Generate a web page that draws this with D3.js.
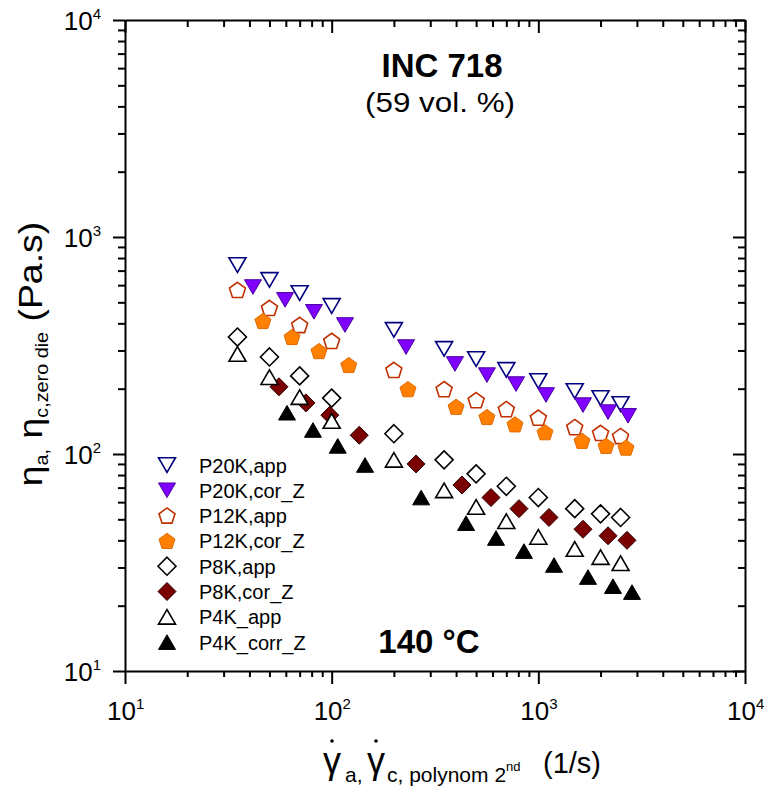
<!DOCTYPE html>
<html>
<head>
<meta charset="utf-8">
<script src="https://cdn.jsdelivr.net/npm/d3@7"></script>
<style>
  html, body { margin: 0; padding: 0; background: #fff; }
  svg { display: block; font-family: Arial, "Liberation Sans", sans-serif; }
</style>
</head>
<body>
<svg id="chart" width="765" height="787"></svg>
<script>
// ---------------- DATA ----------------
const majorTicks = [10, 100, 1000, 10000];
const tickExponents = ["1", "2", "3", "4"];

const seriesNames = ["P20K,app", "P20K,cor_Z", "P12K,app", "P12K,cor_Z",
                     "P8K,app", "P8K,cor_Z", "P4K_app", "P4K_corr_Z"];

// apparent shear rates (1/s)
const rateApp = [35, 50, 70, 100, 200, 350, 500, 700, 1000, 1500, 2000, 2500];

const p20kAppEta  = [743, 634, 552, 481, 373, 305, 274, 244, 217, 195, 181, 170];
const p20kCorRate = [41.6, 59.5, 82.1, 116, 229, 395, 564, 780, 1089, 1645, 2174, 2716];
const p20kCorEta  = [588, 513, 452, 393, 311, 260, 231, 210, 187, 168, 156, 150];

const p12kAppEta  = [570, 471, 393, 332, 244, 199, 177, 161, 147, 133, 125, 121];
const p12kCorRate = [46.5, 64.3, 86.8, 121, 234, 400, 564, 771, 1077, 1627, 2126, 2656];
const p12kCorEta  = [410, 346, 298, 257, 199, 165, 148, 137, 126, 115, 109, 107];

const p8kAppEta   = [346, 280, 229, 181, 124, 94, 81, 71, 63, 56, 53, 51];
const p8kCorRate  = [55.6, 75.1, 98, 136, 256, 427, 590, 806, 1126, 1645, 2174, 2686];
const p8kCorEta   = [204, 172, 151, 122, 90, 72, 63, 56, 51, 45, 42, 40];

const p4kAppEta   = [289, 226, 183, 142, 94, 68, 57, 49, 41.5, 36.5, 33.5, 31.4];
const p4kCorRate  = [60.8, 81.2, 107, 145, 271, 447, 624, 852, 1191, 1739, 2297, 2840];
const p4kCorEta   = [155, 129, 109, 89, 63, 48, 41, 35.7, 30.8, 27.1, 24.6, 23.1];

// ---------------- SETUP ----------------
const svg = d3.select("#chart");
svg.append("rect").attr("width", 765).attr("height", 787).attr("fill", "#fff");

const L = 125, R = 745, T = 20, B = 671;
const x = d3.scaleLog().domain([10, 10000]).range([L, R]);
const y = d3.scaleLog().domain([10, 10000]).range([B, T]);

// minor ticks 2..9 per decade
const minorTicks = [];
for (let d = 10; d < 10000; d *= 10) for (let k = 2; k <= 9; k++) minorTicks.push(d * k);

function styleAxis(g) {
  g.select(".domain").attr("stroke", "#000").attr("stroke-width", 2);
  g.selectAll(".tick line").attr("stroke", "#000").attr("stroke-width", 2);
  g.selectAll(".tick text").remove();
}
function addAxis(axisFn, scale, transform, majorLen, minorLen) {
  const gMaj = svg.append("g").attr("transform", transform)
    .call(axisFn(scale).tickValues(majorTicks).tickSize(majorLen).tickSizeOuter(0).tickFormat(""));
  styleAxis(gMaj);
  const gMin = svg.append("g").attr("transform", transform)
    .call(axisFn(scale).tickValues(minorTicks).tickSize(minorLen).tickSizeOuter(0).tickFormat(""));
  styleAxis(gMin);
  gMin.select(".domain").remove();
}
addAxis(d3.axisBottom, x, `translate(0,${B})`, 13, 6);
addAxis(d3.axisTop, x, `translate(0,${T})`, -13, -7);
addAxis(d3.axisLeft, y, `translate(${L},0)`, 12, 7);
addAxis(d3.axisRight, y, `translate(${R},0)`, -12, -7);

// tick labels
const tickFont = 26, supFont = 15;
majorTicks.forEach((v, i) => {
  const t = svg.append("text").attr("x", x(v) - 18).attr("y", 720)
    .attr("font-size", tickFont).attr("fill", "#000");
  t.append("tspan").text("10");
  t.append("tspan").attr("font-size", supFont).attr("dy", -11).text(tickExponents[i]);

  const ty = svg.append("text").attr("x", 101).attr("y", y(v) + 10)
    .attr("font-size", tickFont).attr("fill", "#000").attr("text-anchor", "end");
  ty.append("tspan").text("10");
  ty.append("tspan").attr("font-size", supFont).attr("dy", -11).text(tickExponents[i]);
});

// ---------------- SYMBOLS ----------------
const triDown = { draw(c, s) { const w = s, h = s * 0.86;
  c.moveTo(-w/2, -h/2); c.lineTo(w/2, -h/2); c.lineTo(0, h/2); c.closePath(); } };
const triUp = { draw(c, s) { const w = s, h = s * 0.86;
  c.moveTo(-w/2, h/2); c.lineTo(w/2, h/2); c.lineTo(0, -h/2); c.closePath(); } };
const pentagon = { draw(c, s) { const r = s / 1.9;
  for (let k = 0; k < 5; k++) { const a = -Math.PI/2 + k * 2 * Math.PI / 5;
    const px = r * Math.cos(a), py = r * Math.sin(a) + 0.09 * r;
    if (k === 0) c.moveTo(px, py); else c.lineTo(px, py); }
  c.closePath(); } };
const diamond = { draw(c, s) { const h = s / 2;
  c.moveTo(0, -h); c.lineTo(h, 0); c.lineTo(0, h); c.lineTo(-h, 0); c.closePath(); } };

const seriesX = [rateApp, p20kCorRate, rateApp, p12kCorRate, rateApp, p8kCorRate, rateApp, p4kCorRate];
const seriesY = [p20kAppEta, p20kCorEta, p12kAppEta, p12kCorEta, p8kAppEta, p8kCorEta, p4kAppEta, p4kCorEta];
const seriesSym = [triDown, triDown, pentagon, pentagon, diamond, diamond, triUp, triUp];
const seriesSize = [17, 17, 16, 16, 18, 18, 17, 17];
const seriesFill = ["#fff", "#7f00ff", "#fff", "#ff8000", "#fff", "#7a0000", "#fff", "#000"];
const seriesStroke = ["#000080", "#4a00a0", "#c03000", "#e06a00", "#000", "#2a0000", "#000", "#000"];
const seriesSW = [1.6, 1, 1.6, 1, 1.6, 1, 1.6, 1];

seriesNames.forEach((name, i) => {
  const pts = seriesX[i].map((v, j) => [v, seriesY[i][j]]);
  svg.append("g").selectAll("path").data(pts).join("path")
    .attr("transform", d => `translate(${x(d[0])},${y(d[1])})`)
    .attr("d", d3.symbol().type(seriesSym[i]).size(seriesSize[i]))
    .attr("fill", seriesFill[i]).attr("stroke", seriesStroke[i])
    .attr("stroke-width", seriesSW[i]).attr("stroke-linejoin", "miter");
});

// ---------------- LEGEND ----------------
const legend = svg.append("g");
seriesNames.forEach((name, i) => {
  const cy = 465 + i * 25.3;
  legend.append("path").attr("transform", `translate(167,${cy})`)
    .attr("d", d3.symbol().type(seriesSym[i]).size(seriesSize[i]))
    .attr("fill", seriesFill[i]).attr("stroke", seriesStroke[i]).attr("stroke-width", seriesSW[i]);
  legend.append("text").attr("x", 199).attr("y", cy + 7.5)
    .attr("font-size", 20).attr("fill", "#000").text(name);
});

// ---------------- ANNOTATIONS ----------------
svg.append("text").attr("x", 442).attr("y", 77).attr("text-anchor", "middle")
  .attr("font-size", 33).attr("font-weight", "bold").text("INC 718");
svg.append("text").attr("x", 440).attr("y", 112).attr("text-anchor", "middle")
  .attr("font-size", 27).attr("textLength", 150).attr("lengthAdjust", "spacingAndGlyphs")
  .text("(59 vol. %)");
svg.append("text").attr("x", 429).attr("y", 653).attr("text-anchor", "middle")
  .attr("font-size", 33).attr("font-weight", "bold").text("140 °C");

// ---------------- AXIS TITLES ----------------
// Y title
const yt = svg.append("text").attr("transform", "translate(42,354) rotate(-90) scale(1.1,1)")
  .attr("text-anchor", "middle").attr("font-size", 34).attr("fill", "#000");
yt.append("tspan").text("η");
yt.append("tspan").attr("font-size", 18).attr("dy", 6).text("a");
yt.append("tspan").attr("font-size", 18).text(",");
yt.append("tspan").attr("dy", -6).text(" η");
yt.append("tspan").attr("font-size", 18).attr("dy", 6).text("c,zero die");
yt.append("tspan").attr("dy", -6).text(" (Pa.s)");

// X title
const xt = svg.append("text").attr("x", 323).attr("y", 773)
  .attr("font-size", 36).attr("fill", "#000");
xt.append("tspan").text("γ");
xt.append("tspan").attr("font-size", 21).attr("x", 345).attr("dy", 9).text("a,");
xt.append("tspan").attr("x", 367).attr("dy", -9).text("γ");
xt.append("tspan").attr("font-size", 21).attr("x", 387).attr("dy", 9).text("c, polynom 2");
xt.append("tspan").attr("font-size", 13).attr("dy", -11).text("nd");
xt.append("tspan").attr("font-size", 29).attr("x", 543).attr("dy", 2).text("(1/s)");
// dots over gammas
const xtNode = xt.node();
const fullText = xtNode.textContent;
[...fullText].forEach((ch, idx) => {
  if (ch === "γ") {
    const s = xtNode.getStartPositionOfChar(idx), e = xtNode.getEndPositionOfChar(idx);
    svg.append("circle").attr("cx", (s.x + e.x) / 2).attr("cy", 741).attr("r", 1.8).attr("fill", "#000");
  }
});
</script>
</body>
</html>
